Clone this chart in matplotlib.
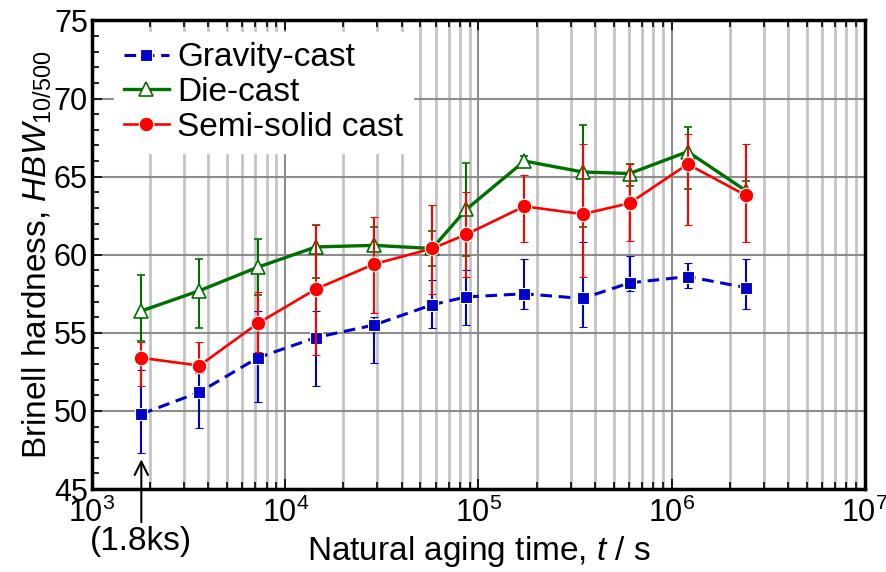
import numpy as np
import matplotlib
matplotlib.use('Agg')
import matplotlib.pyplot as plt
from matplotlib.ticker import MultipleLocator, LogLocator, NullFormatter

plt.rcParams['font.family'] = ['Liberation Sans', 'DejaVu Sans']
plt.rcParams['mathtext.fontset'] = 'custom'
plt.rcParams['mathtext.rm'] = 'Liberation Sans'
plt.rcParams['mathtext.it'] = 'Liberation Sans:italic'

# aging times (s)
t = [1800, 3600, 7200, 14400, 28800, 57600, 86400, 172800, 345600, 604800, 1209600, 2419200]

grav = [49.8, 51.2, 53.4, 54.7, 55.5, 56.8, 57.3, 57.5, 57.2, 58.2, 58.6, 57.9]
grav_lo = [47.3, 48.9, 50.6, 51.6, 53.1, 55.3, 55.5, 56.5, 55.4, 57.7, 57.9, 56.5]
grav_hi = [52.6, 52.4, 56.4, 56.4, 56.0, 58.4, 59.0, 59.7, 60.8, 59.9, 59.5, 59.7]

die = [56.4, 57.7, 59.2, 60.5, 60.6, 60.4, 62.9, 66.0, 65.3, 65.2, 66.6, 64.1]
die_lo = [54.5, 55.3, 57.4, 58.5, 59.4, 59.3, 59.9, 65.7, 61.8, 64.4, 64.2, 63.5]
die_hi = [58.7, 59.7, 61.0, 61.9, 61.8, 61.5, 65.9, 66.3, 68.3, 65.8, 68.2, 64.7]

semi = [53.4, 52.9, 55.6, 57.8, 59.4, 60.4, 61.3, 63.1, 62.6, 63.3, 65.8, 63.8]
semi_lo = [51.6, 52.4, 53.8, 53.6, 56.3, 57.5, 58.6, 60.8, 58.6, 60.9, 61.9, 60.8]
semi_hi = [54.4, 54.4, 57.6, 61.9, 62.4, 63.2, 64.0, 65.1, 67.1, 65.8, 67.7, 67.1]

labels = ['Gravity-cast', 'Die-cast', 'Semi-solid cast']


def yerr(v, lo, hi):
    v = np.array(v)
    return [v - np.array(lo), np.array(hi) - v]


fig = plt.figure(figsize=(8.87, 5.72), dpi=100)
ax = fig.add_axes([0.1037, 0.1451, 0.8715, 0.8191])

blue = '#0000CC'
green = '#007000'
red = '#FF0000'

eb1 = ax.errorbar(t, grav, yerr=yerr(grav, grav_lo, grav_hi), color=blue, lw=2.2,
                  linestyle=(0, (3.8, 2.2)), marker='s', ms=9, mfc=blue, mec='white', mew=0.8,
                  ecolor=blue, elinewidth=1.5, capsize=2.8, capthick=1.5, zorder=3)
eb2 = ax.errorbar(t, die, yerr=yerr(die, die_lo, die_hi), color=green, lw=2.4,
                  marker='^', ms=10, mfc='white', mec=green, mew=1.2,
                  ecolor=green, elinewidth=1.5, capsize=2.8, capthick=1.5, zorder=4)
eb3 = ax.errorbar(t, semi, yerr=yerr(semi, semi_lo, semi_hi), color=red, lw=1.9,
                  marker='o', ms=10.5, mfc=red, mec='white', mew=0.8,
                  ecolor=red, elinewidth=1.5, capsize=2.8, capthick=1.5, zorder=5)

ax.set_xscale('log')
ax.set_xlim(1e3, 1e7)
ax.set_ylim(45, 75)
ax.yaxis.set_major_locator(MultipleLocator(5))
ax.yaxis.set_minor_locator(MultipleLocator(1))
ax.xaxis.set_major_locator(LogLocator(base=10, numticks=10))
ax.xaxis.set_minor_locator(LogLocator(base=10, subs=np.arange(2, 10), numticks=50))
ax.xaxis.set_minor_formatter(NullFormatter())

ax.grid(True, which='major', axis='both', color='#8c8c8c', lw=1.5, zorder=0)
ax.grid(True, which='minor', axis='x', color='#c4c4c4', lw=2, zorder=0)
ax.set_axisbelow(True)

for s in ax.spines.values():
    s.set_linewidth(2.5)
ax.tick_params(which='both', direction='in', top=True, right=False, width=1.2, labelsize=22)
ax.tick_params(axis='x', pad=6)
ax.tick_params(axis='y', pad=3)
ax.tick_params(which='major', length=7)
ax.tick_params(which='minor', length=5)

ax.set_xlabel('Natural aging time, $t$ / s', fontsize=24, labelpad=4)
ax.set_ylabel('Brinell hardness, $HBW_{10/500}$', fontsize=24, labelpad=0)

ax.annotate('(1.8ks)', xy=(1800, 46.9), xytext=(1800, -0.08),
            textcoords=ax.get_xaxis_transform(), ha='center', va='top', fontsize=24,
            arrowprops=dict(arrowstyle='->', color='black', lw=1.5, mutation_scale=24,
                            shrinkA=1, shrinkB=0),
            annotation_clip=False)

leg = ax.legend(handles=[eb1.lines[0], eb2.lines[0], eb3.lines[0]], labels=labels,
                loc='upper left', bbox_to_anchor=(0.028, 0.975),
                fontsize=24, frameon=True, fancybox=False, edgecolor='white', framealpha=1,
                handlelength=1.35, handletextpad=0.25, labelspacing=0.11,
                borderaxespad=0.0, borderpad=0.3, numpoints=1)
leg.set_zorder(6)

fig.savefig('out.png', dpi=100)
